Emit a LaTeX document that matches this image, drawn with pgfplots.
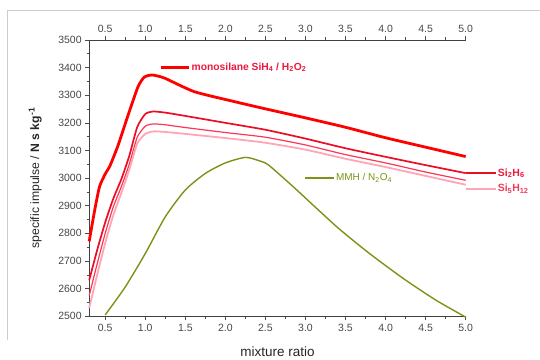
\documentclass[border=0pt]{standalone}
\usepackage{fontspec}
\setmainfont{Liberation Sans}
\usepackage{pgfplots}
\pgfplotsset{compat=1.18}
\usetikzlibrary{calc}

\definecolor{red1}{RGB}{255,0,0}
\definecolor{red2}{RGB}{238,12,36}
\definecolor{red3}{RGB}{250,55,85}
\definecolor{pink4}{RGB}{255,165,180}
\definecolor{olivec}{RGB}{122,148,22}
\definecolor{txtgray}{RGB}{70,70,70}
\definecolor{lblred}{RGB}{235,25,60}

\pgfplotsset{base/.style={
  scale only axis, width=377pt, height=276.7pt,
  xmin=0.3, xmax=5.0, ymin=2500, ymax=3500,
  xtick={0.5,1.0,1.5,2.0,2.5,3.0,3.5,4.0,4.5,5.0},
  ytick={2500,2600,...,3500},
  minor x tick num=1, minor y tick num=1,
  tick align=outside,
  major tick length=4pt, minor tick length=2.5pt,
  tick style={black!70, line width=0.6pt},
  axis line style={black!75, line width=0.7pt},
  ticklabel style={font=\fontsize{10.5}{12}\selectfont, text=txtgray},
  /pgf/number format/assume math mode=true,
  /pgf/number format/1000 sep={},
  xticklabel style={/pgf/number format/.cd, fixed, fixed zerofill, precision=1},
  clip=false,
}}

\begin{document}
\begin{tikzpicture}
\begin{axis}[base, name=ax, axis x line*=bottom, axis y line*=left]
% monosilane
\addplot[red1, line width=2.8pt, smooth, tension=0.35] coordinates {
(0.3,2771) (0.37,2886) (0.43,2970) (0.5,3015) (0.56,3045) (0.66,3118) (0.78,3223)
(0.91,3331) (0.99,3366) (1.09,3373) (1.24,3362) (1.61,3313) (2.11,3277) (2.48,3252)
(3.0,3218) (3.5,3184) (4.0,3146) (4.5,3112) (5.0,3078)};
% Si2H6
\addplot[red2, line width=1.7pt, smooth, tension=0.35] coordinates {
(0.3,2630) (0.4,2740) (0.5,2840) (0.6,2925) (0.7,2995) (0.8,3080) (0.9,3185)
(1.0,3232) (1.1,3241) (1.25,3237) (1.5,3225) (2.0,3200) (2.5,3175) (3.0,3143)
(3.5,3108) (4.0,3077) (4.5,3047) (5.0,3018)};
% third
\addplot[red3, line width=1.2pt, smooth, tension=0.35] coordinates {
(0.3,2575) (0.4,2690) (0.5,2800) (0.6,2895) (0.7,2968) (0.8,3050) (0.9,3148)
(1.0,3188) (1.1,3196) (1.25,3193) (1.5,3183) (2.0,3165) (2.5,3148) (3.0,3120)
(3.5,3085) (4.0,3055) (4.5,3022) (5.0,2992)};
% Si5H12
\addplot[pink4, line width=1.8pt, smooth, tension=0.35] coordinates {
(0.3,2530) (0.4,2650) (0.5,2765) (0.6,2865) (0.7,2945) (0.8,3030) (0.9,3125)
(1.0,3160) (1.1,3169) (1.25,3167) (1.5,3160) (2.0,3145) (2.5,3128) (3.0,3103)
(3.5,3070) (4.0,3040) (4.5,3008) (5.0,2976)};
% MMH / N2O4
\addplot[olivec, line width=1.4pt, smooth, tension=0.4] coordinates {
(0.5,2505) (0.75,2606) (1.0,2727) (1.25,2860) (1.5,2957) (1.75,3017) (2.0,3055)
(2.25,3075) (2.43,3062) (2.54,3047) (2.85,2968) (3.39,2824) (3.80,2727) (4.22,2637)
(4.63,2558) (5.0,2497)};

% labels
\draw[red1, line width=2.8pt] (axis cs:1.2,3401) -- (axis cs:1.55,3401)
  node[right, inner sep=1pt, text=lblred, font=\fontsize{10.3}{12}\selectfont\bfseries]
  {monosilane SiH\textsubscript{4} / H\textsubscript{2}O\textsubscript{2}};
\draw[olivec, line width=1.4pt] (axis cs:3.0,3000) -- (axis cs:3.36,3000)
  node[right, inner sep=1pt, text=olivec, font=\fontsize{10}{12}\selectfont]
  {MMH / N\textsubscript{2}O\textsubscript{4}};
\draw[red2, line width=1.7pt] (axis cs:5.0,3018) -- (axis cs:5.38,3018)
  node[right, inner sep=1pt, text=lblred, font=\fontsize{10.5}{12}\selectfont\bfseries]
  {Si\textsubscript{2}H\textsubscript{6}};
\draw[pink4, line width=1.3pt] (axis cs:5.0,2961) -- (axis cs:5.38,2961)
  node[right, inner sep=1pt, text=lblred!85, font=\fontsize{10.5}{12}\selectfont\bfseries]
  {Si\textsubscript{5}H\textsubscript{12}};
\end{axis}
\begin{axis}[base, axis x line*=top, axis y line=none]
\addplot[draw=none] coordinates {(1,3000)};
\end{axis}

\node[rotate=90, font=\fontsize{12.2}{14}\selectfont, text=black!85] at ($(ax.west)+(-54pt,0)$)
  {specific impulse / \textbf{N s kg\textsuperscript{-1}}};
\node[font=\fontsize{13.5}{15}\selectfont, text=black!85] at ($(ax.south)+(0,-35pt)$) {mixture ratio};

\draw[black!20, line width=0.8pt] ($(ax.south west)+(-82pt,-23.3pt)$) |- ($(ax.north east)+(74pt,29.3pt)$);
\path[use as bounding box] ($(ax.south west)+(-89.3pt,-40.3pt)$) rectangle ($(ax.north east)+(74pt,40pt)$);
\end{tikzpicture}
\end{document}
